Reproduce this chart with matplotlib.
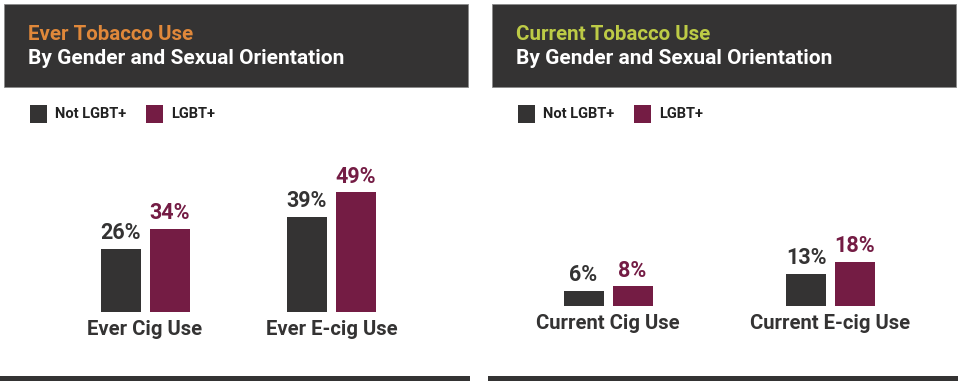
import matplotlib
matplotlib.use("Agg")
import matplotlib.pyplot as plt
import matplotlib.patches as patches
import numpy as np

plt.rcParams['font.family'] = ['Roboto', 'DejaVu Sans']
plt.rcParams['font.weight'] = 'bold'

# data
series = ['Not LGBT+', 'LGBT+']
ever_cats = ['Ever Cig Use', 'Ever E-cig Use']
ever_not = [26, 39]
ever_lgbt = [34, 49]
curr_cats = ['Current Cig Use', 'Current E-cig Use']
curr_not = [6, 13]
curr_lgbt = [8, 18]

DARK = '#343333'
MAROON = '#741C44'
ORANGE = '#E0883A'
GREEN = '#BDCB46'

W, H = 960, 386
fig = plt.figure(figsize=(W / 100, H / 100), dpi=100)


def fx(x):
    return x / W


def fy(y):
    return 1 - y / H


def panel(x0, x1, base_y, g0, spacing, title, title_col, cats, v_not, v_lgbt):
    # header box
    fig.patches.append(patches.Rectangle((fx(x0 + 4), fy(87)), fx(x1 - x0 - 8), 83 / H,
                                         transform=fig.transFigure, facecolor=DARK,
                                         edgecolor='#8a8a8a', lw=0.6))
    fig.text(fx(x0 + 28), fy(34), title, color=title_col, fontsize=14.8,
             fontweight='bold', va='center', ha='left')
    fig.text(fx(x0 + 28), fy(59), 'By Gender and Sexual Orientation', color='white',
             fontsize=15, fontweight='bold', va='center', ha='left')

    # legend
    lx = x0 + 30
    for name, col in zip(series, [DARK, MAROON]):
        fig.patches.append(patches.Rectangle((fx(lx), fy(123)), fx(17), 18 / H,
                                             transform=fig.transFigure, facecolor=col))
        fig.text(fx(lx + 25), fy(114), name, color='#222222', fontsize=10.5,
                 fontweight='bold', va='center', ha='left')
        lx += 116

    # bars
    scale = 2.44  # px per percent
    top = 60
    ax = fig.add_axes([fx(x0), fy(base_y), fx(x1 - x0), top * scale / H])
    left = (x0 - g0) / spacing
    right = (x1 - g0) / spacing
    ax.set_xlim(left, right)
    ax.set_ylim(0, top)
    ax.axis('off')
    bw = 40 / spacing
    off = 24.5 / spacing
    pos = np.arange(len(cats))
    b1 = ax.bar(pos - off, v_not, bw, color=DARK)
    b2 = ax.bar(pos + off, v_lgbt, bw, color=MAROON)
    for bars, vals, col in [(b1, v_not, DARK), (b2, v_lgbt, MAROON)]:
        for b, v in zip(bars, vals):
            ax.annotate('%d%%' % v, (b.get_x() + b.get_width() / 2, v),
                        xytext=(0, 3.5), textcoords='offset points', ha='center',
                        va='bottom', fontsize=15.5, fontweight='bold', color=col)
    for p, c in zip(pos, cats):
        ax.annotate(c, (p, 0), xytext=(0, -5.5), textcoords='offset points',
                    ha='center', va='top', fontsize=14.6, fontweight='bold',
                    color=DARK)

    # bottom rule
    fig.patches.append(patches.Rectangle((fx(x0), fy(381)), fx(x1 - x0 - 2), 5 / H,
                                         transform=fig.transFigure, facecolor=DARK))


panel(0, 472, 312, 145, 186.5, 'Ever Tobacco Use', ORANGE, ever_cats, ever_not, ever_lgbt)
panel(488, 960, 306, 608, 222.5, 'Current Tobacco Use', GREEN, curr_cats, curr_not, curr_lgbt)

fig.savefig('out.png', dpi=100, facecolor='white')
